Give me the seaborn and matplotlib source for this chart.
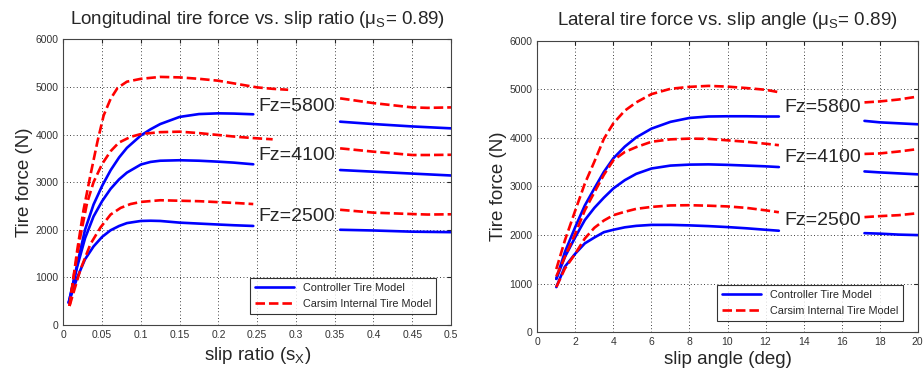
import numpy as np
import pandas as pd
import matplotlib
matplotlib.use("Agg")
import matplotlib.pyplot as plt
import seaborn as sns
from matplotlib.lines import Line2D

sns.set_style("white")
plt.rcParams['font.family'] = ['Liberation Sans', 'DejaVu Sans']

# ---- left panel: longitudinal force vs slip ratio ----
sx_ctrl_a = [0.007, 0.018, 0.028, 0.039, 0.05, 0.061, 0.072, 0.082, 0.1, 0.1125,
             0.125, 0.15, 0.175, 0.2, 0.22, 0.245]
fx_ctrl_5800_a = [470, 1280, 2000, 2530, 2920, 3250, 3520, 3720, 3980, 4110,
                  4220, 4370, 4430, 4445, 4440, 4425]
fx_ctrl_4100_a = [470, 1230, 1820, 2280, 2600, 2860, 3060, 3200, 3370, 3425,
                  3450, 3460, 3450, 3430, 3410, 3375]
fx_ctrl_2500_a = [470, 1000, 1380, 1650, 1850, 1990, 2080, 2140, 2185, 2190,
                  2185, 2150, 2130, 2110, 2095, 2080]
sx_ctrl_b = [0.357, 0.4, 0.45, 0.5]
fx_ctrl_5800_b = [4270, 4220, 4170, 4130]
fx_ctrl_4100_b = [3255, 3220, 3180, 3140]
fx_ctrl_2500_b = [2000, 1985, 1960, 1950]

sx_cs_5800_a = [0.008, 0.018, 0.026, 0.035, 0.044, 0.052, 0.061, 0.07, 0.082, 0.1,
                0.125, 0.15, 0.175, 0.2, 0.225, 0.25, 0.27, 0.29]
fx_cs_5800_a = [400, 1580, 2410, 3150, 3850, 4400, 4750, 4980, 5110, 5170,
                5210, 5200, 5170, 5130, 5060, 4990, 4960, 4940]
sx_cs_4100_a = [0.008, 0.0134, 0.022, 0.0306, 0.039, 0.05, 0.061, 0.0716, 0.0866, 0.1,
                0.125, 0.15, 0.175, 0.2, 0.225, 0.25, 0.27]
fx_cs_4100_a = [400, 1020, 1860, 2560, 3000, 3380, 3650, 3830, 3950, 4010,
                4050, 4060, 4030, 3990, 3950, 3920, 3900]
sx_cs_2500_a = [0.008, 0.022, 0.035, 0.048, 0.061, 0.074, 0.0866, 0.1,
                0.125, 0.15, 0.175, 0.2, 0.225, 0.245]
fx_cs_2500_a = [400, 1160, 1700, 2050, 2320, 2460, 2540, 2585,
                2620, 2610, 2600, 2580, 2560, 2540]
sx_cs_b = [0.357, 0.4, 0.45, 0.47, 0.5]
fx_cs_5800_b = [4760, 4660, 4570, 4560, 4570]
fx_cs_4100_b = [3710, 3640, 3570, 3570, 3575]
fx_cs_2500_b = [2420, 2360, 2330, 2320, 2325]

# ---- right panel: lateral force vs slip angle ----
alpha_a = [1, 1.45, 2, 2.5, 3, 3.5, 4, 4.6, 5.2, 6, 7, 8, 9, 10, 11, 12, 12.7]
fy_ctrl_5800_a = [1100, 1650, 2170, 2610, 2960, 3300, 3580, 3820, 4010, 4190,
                  4330, 4410, 4440, 4445, 4445, 4440, 4440]
fy_ctrl_4100_a = [1100, 1550, 1960, 2310, 2560, 2770, 2960, 3130, 3260, 3370,
                  3430, 3450, 3455, 3445, 3430, 3415, 3400]
fy_ctrl_2500_a = [930, 1350, 1620, 1830, 1950, 2060, 2110, 2160, 2190, 2210,
                  2210, 2200, 2185, 2165, 2140, 2110, 2090]
fy_cs_5800_a = [1300, 1890, 2510, 3060, 3510, 3980, 4300, 4560, 4730, 4900,
                5010, 5050, 5070, 5055, 5025, 4990, 4940]
fy_cs_4100_a = [1150, 1550, 2030, 2510, 2880, 3240, 3540, 3710, 3810, 3920,
                3970, 3985, 3980, 3950, 3920, 3880, 3850]
fy_cs_2500_a = [930, 1310, 1620, 1930, 2150, 2300, 2410, 2480, 2540, 2580,
                2610, 2615, 2605, 2590, 2560, 2510, 2470]
alpha_b = [17.2, 18, 19, 20]
fy_ctrl_5800_b = [4350, 4320, 4300, 4280]
fy_ctrl_4100_b = [3310, 3290, 3270, 3250]
fy_ctrl_2500_b = [2040, 2030, 2010, 2000]
fy_cs_5800_b = [4730, 4750, 4790, 4850]
fy_cs_4100_b = [3670, 3680, 3720, 3770]
fy_cs_2500_b = [2370, 2390, 2410, 2450]

load_labels = ["Fz=5800", "Fz=4100", "Fz=2500"]
legend_labels = ["Controller Tire Model", "Carsim Internal Tire Model"]

BLUE = "#0000ff"
RED = "#ff0000"
DASH = [3.6, 1.5]
LW = 1.9

fig = plt.figure(figsize=(9.23, 3.76), dpi=100)
ax1 = fig.add_axes([0.0686, 0.1356, 0.4200, 0.7599])
ax2 = fig.add_axes([0.5821, 0.1162, 0.4122, 0.7756])


def draw(ax, x, y, ctrl):
    if ctrl:
        sns.lineplot(x=x, y=y, ax=ax, color=BLUE, lw=LW, sort=False)
    else:
        sns.lineplot(x=x, y=y, ax=ax, color=RED, lw=LW, sort=False)
        ax.lines[-1].set_dashes(DASH)


# left
for ys in [fx_ctrl_5800_a, fx_ctrl_4100_a, fx_ctrl_2500_a]:
    draw(ax1, sx_ctrl_a, ys, True)
for ys in [fx_ctrl_5800_b, fx_ctrl_4100_b, fx_ctrl_2500_b]:
    draw(ax1, sx_ctrl_b, ys, True)
for xs, ys in [(sx_cs_5800_a, fx_cs_5800_a), (sx_cs_4100_a, fx_cs_4100_a), (sx_cs_2500_a, fx_cs_2500_a)]:
    draw(ax1, xs, ys, False)
for ys in [fx_cs_5800_b, fx_cs_4100_b, fx_cs_2500_b]:
    draw(ax1, sx_cs_b, ys, False)

# right
for ys in [fy_ctrl_5800_a, fy_ctrl_4100_a, fy_ctrl_2500_a]:
    draw(ax2, alpha_a, ys, True)
for ys in [fy_ctrl_5800_b, fy_ctrl_4100_b, fy_ctrl_2500_b]:
    draw(ax2, alpha_b, ys, True)
for ys in [fy_cs_5800_a, fy_cs_4100_a, fy_cs_2500_a]:
    draw(ax2, alpha_a, ys, False)
for ys in [fy_cs_5800_b, fy_cs_4100_b, fy_cs_2500_b]:
    draw(ax2, alpha_b, ys, False)

# load labels
for lab, yv in zip(load_labels, [4580, 3550, 2270]):
    ax1.text(0.251, yv, lab, fontsize=14, va="center", ha="left")
for lab, yv in zip(load_labels, [4630, 3600, 2310]):
    ax2.text(13.0, yv, lab, fontsize=14, va="center", ha="left")

# axes styling
ax1.set_xlim(0, 0.5)
ax1.set_xticks(np.arange(0, 0.51, 0.05))
ax1.set_xticklabels(["0", "0.05", "0.1", "0.15", "0.2", "0.25", "0.3", "0.35", "0.4", "0.45", "0.5"])
ax2.set_xlim(0, 20)
ax2.set_xticks(np.arange(0, 21, 2))
for ax in (ax1, ax2):
    ax.set_ylim(0, 6000)
    ax.set_yticks(np.arange(0, 6001, 1000))
    ax.grid(True, color="black", linestyle=(0, (1, 3)), linewidth=0.6)
    ax.tick_params(direction="in", labelsize=7.5, length=3, top=True, right=True,
                   labelcolor="#333333")
    for s in ax.spines.values():
        s.set_color("#444444")
        s.set_linewidth(0.8)
    ax.set_ylabel("Tire force (N)", fontsize=13.5, labelpad=2)
    handles = [Line2D([], [], color=BLUE, lw=LW),
               Line2D([], [], color=RED, lw=LW, dashes=DASH)]
    leg = ax.legend(handles, legend_labels, loc="lower right", fontsize=7.8,
                    frameon=True, fancybox=False, edgecolor="black",
                    handlelength=3.6, borderpad=0.45, labelspacing=0.55,
                    bbox_to_anchor=(0.975, 0.02))
    leg.get_frame().set_linewidth(0.8)

ax1.set_xlabel("slip ratio (s$_\\mathregular{X}$)", fontsize=13.5, labelpad=4)
ax2.set_xlabel("slip angle (deg)", fontsize=13.5, labelpad=3)
ax1.set_title("Longitudinal tire force vs. slip ratio (\u03bc$_\\mathregular{S}$= 0.89)",
              fontsize=13.5, pad=11)
ax2.set_title("Lateral tire force vs. slip angle (\u03bc$_\\mathregular{S}$= 0.89)",
              fontsize=13.5, pad=11)

fig.savefig("out.png", dpi=100)
